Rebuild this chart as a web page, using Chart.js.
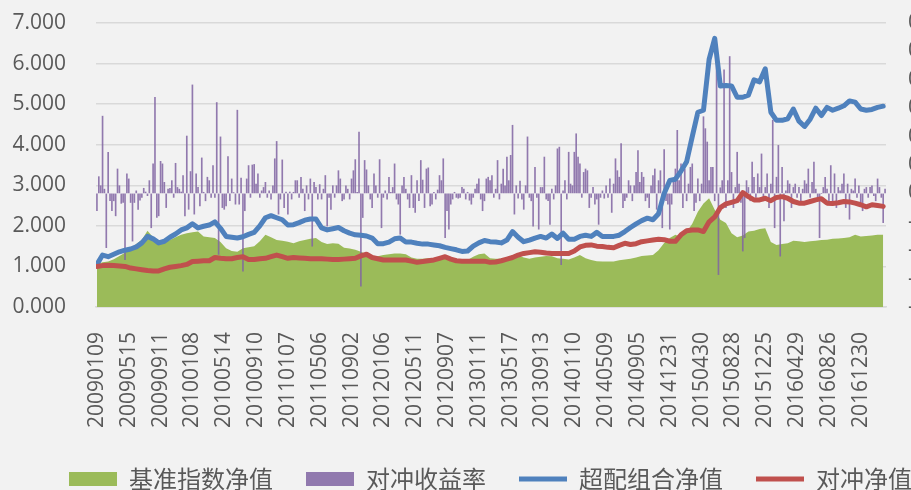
<!DOCTYPE html>
<html>
<head>
<meta charset="utf-8">
<script src="https://cdn.jsdelivr.net/npm/chart.js@4/dist/chart.umd.min.js"></script>
<style>
  html, body { margin: 0; padding: 0; background: #f2f2f2; overflow: hidden; }
  canvas { display: block; }
</style>
</head>
<body>
<canvas id="navChart" width="981" height="501"></canvas>
<script>
// x axis labels, one every 17 weeks
const tickLabels = ['20090109', '20090515', '20090911', '20100108', '20100514', '20100910',
    '20110107', '20110506', '20110902', '20120106', '20120511', '20120907', '20130111',
    '20130517', '20130913', '20140110', '20140509', '20140905', '20141231', '20150430',
    '20150828', '20151225', '20160429', '20160826', '20161230'];
const TICK_STEP = 17;
const WEEKS = 422;
const SAMPLE_STEP = 3; // line values read every 3 weeks

// 基准指数净值
const benchmarkNav = [
    1.05, 1.10, 1.12, 1.18, 1.26, 1.34, 1.45, 1.55, 1.66, 1.88,
    1.72, 1.58, 1.60, 1.65, 1.72, 1.78, 1.82, 1.84, 1.86, 1.74,
    1.72, 1.70, 1.60, 1.45, 1.38, 1.36, 1.45, 1.47, 1.50, 1.62,
    1.78, 1.72, 1.65, 1.63, 1.61, 1.57, 1.62, 1.65, 1.68, 1.70,
    1.60, 1.55, 1.57, 1.56, 1.46, 1.44, 1.41, 1.36, 1.30, 1.26,
    1.25, 1.28, 1.30, 1.32, 1.32, 1.30, 1.22, 1.19, 1.19, 1.20,
    1.20, 1.24, 1.28, 1.20, 1.15, 1.12, 1.16, 1.24, 1.30, 1.32,
    1.20, 1.19, 1.19, 1.22, 1.24, 1.27, 1.22, 1.19, 1.22, 1.24,
    1.26, 1.25, 1.20, 1.19, 1.17, 1.22, 1.28, 1.20, 1.16, 1.13,
    1.12, 1.12, 1.12, 1.15, 1.17, 1.19, 1.22, 1.26, 1.27, 1.28,
    1.40, 1.58, 1.70, 1.78, 1.72, 1.85, 2.05, 2.35, 2.55, 2.68,
    2.40, 2.15, 2.07, 1.82, 1.72, 1.76, 1.86, 1.88, 1.92, 1.94,
    1.60, 1.53, 1.55, 1.57, 1.63, 1.62, 1.60, 1.62, 1.63, 1.65,
    1.66, 1.68, 1.69, 1.70, 1.72, 1.78, 1.74, 1.75, 1.76, 1.78,
    1.78
];

// 超配组合净值
const overweightNav = [
    1.05, 1.28, 1.24, 1.30, 1.36, 1.40, 1.43, 1.48, 1.58, 1.74,
    1.68, 1.58, 1.62, 1.72, 1.80, 1.90, 1.95, 2.05, 1.95, 1.99,
    2.02, 2.10, 1.94, 1.74, 1.72, 1.70, 1.73, 1.79, 1.84, 2.00,
    2.20, 2.25, 2.20, 2.15, 2.02, 2.03, 2.08, 2.14, 2.17, 2.17,
    1.95, 1.90, 1.93, 1.96, 1.88, 1.82, 1.78, 1.77, 1.75, 1.70,
    1.56, 1.56, 1.60, 1.68, 1.70, 1.60, 1.60, 1.57, 1.55, 1.55,
    1.53, 1.51, 1.47, 1.44, 1.41, 1.37, 1.38, 1.50, 1.58, 1.64,
    1.61, 1.60, 1.58, 1.65, 1.86, 1.72, 1.61, 1.65, 1.70, 1.74,
    1.70, 1.80, 1.69, 1.82, 1.67, 1.67, 1.74, 1.77, 1.74, 1.84,
    1.74, 1.74, 1.74, 1.77, 1.86, 1.96, 2.05, 2.13, 2.19, 2.15,
    2.30, 2.80, 3.12, 3.15, 3.35, 3.58, 4.20, 4.80, 4.85, 6.10,
    6.62, 5.45, 5.46, 5.45, 5.17, 5.17, 5.22, 5.60, 5.55, 5.87,
    4.80, 4.60, 4.60, 4.64, 4.88, 4.58, 4.45, 4.63, 4.90, 4.72,
    4.92, 4.85, 4.90, 4.96, 5.08, 5.05, 4.88, 4.85, 4.87, 4.92,
    4.95
];

// 对冲净值
const hedgeNav = [
    1.00, 1.02, 1.03, 1.02, 1.01, 1.00, 0.96, 0.94, 0.92, 0.90,
    0.89, 0.89, 0.94, 0.98, 1.00, 1.02, 1.05, 1.12, 1.13, 1.14,
    1.14, 1.22, 1.20, 1.19, 1.19, 1.22, 1.24, 1.17, 1.17, 1.19,
    1.20, 1.24, 1.28, 1.24, 1.20, 1.22, 1.21, 1.20, 1.19, 1.19,
    1.19, 1.18, 1.17, 1.17, 1.18, 1.19, 1.20, 1.26, 1.30, 1.22,
    1.19, 1.16, 1.16, 1.16, 1.16, 1.16, 1.13, 1.10, 1.12, 1.14,
    1.16, 1.20, 1.24, 1.18, 1.14, 1.13, 1.13, 1.13, 1.13, 1.13,
    1.10, 1.11, 1.14, 1.18, 1.22, 1.28, 1.32, 1.34, 1.36, 1.35,
    1.33, 1.32, 1.32, 1.32, 1.32, 1.38, 1.48, 1.52, 1.53, 1.50,
    1.49, 1.47, 1.46, 1.52, 1.57, 1.54, 1.56, 1.61, 1.63, 1.65,
    1.67, 1.66, 1.62, 1.62, 1.78, 1.88, 1.90, 1.90, 1.86, 2.10,
    2.22, 2.45, 2.54, 2.58, 2.62, 2.82, 2.72, 2.64, 2.64, 2.68,
    2.62, 2.70, 2.72, 2.68, 2.60, 2.56, 2.56, 2.60, 2.64, 2.67,
    2.56, 2.55, 2.57, 2.60, 2.59, 2.56, 2.52, 2.47, 2.52, 2.50,
    2.48
];

// 对冲收益率, weekly (right axis)
const hedgeReturn = [
    -0.0061, 0.0059, 0.0027, 0.0272, 0.0015, -0.0191, 0.0145, -0.0026, -0.0061, -0.0026,
    -0.0079, 0.0086, 0.0027, -0.0035, -0.0032, -0.0233, 0.0069, 0.0051, -0.0032, -0.0168,
    -0.0032, 0.0009, -0.0056, -0.0024, -0.0014, 0.0018, 0.0005, -0.0008, 0.0045, -0.0121,
    0.0104, 0.0338, -0.0085, -0.0079, 0.0113, 0.0104, 0.0039, -0.0050, 0.0015, 0.0018,
    0.0045, -0.0014, 0.0106, 0.0021, 0.0015, 0.0005, 0.0063, -0.0079, 0.0202, -0.0056,
    0.0077, 0.0382, -0.0073, 0.0069, 0.0021, -0.0044, 0.0125, 0.0004, -0.0026, 0.0057,
    0.0045, -0.0014, 0.0098, -0.0014, 0.0320, -0.0215, 0.0199, -0.0050, -0.0056, -0.0044,
    0.0130, -0.0026, 0.0051, 0.0003, -0.0038, 0.0293, -0.0038, 0.0054, -0.0274, -0.0061,
    0.0051, 0.0098, -0.0014, 0.0100, 0.0102, 0.0033, 0.0069, -0.0014, 0.0009, 0.0021,
    0.0039, -0.0014, 0.0009, -0.0020, 0.0027, 0.0122, 0.0183, -0.0073, -0.0020, 0.0118,
    -0.0050, 0.0005, -0.0073, 0.0005, -0.0020,
    0.0004, 0.0045, 0.0045, -0.0014, 0.0057, 0.0015, -0.0061, 0.0027, -0.0020, 0.0051,
    -0.0186, 0.0039, 0.0021, -0.0020, 0.0031, -0.0020, 0.0015, 0.0063, -0.0115, -0.0014,
    -0.0056, 0.0027, -0.0014, 0.0027, 0.0080, 0.0051, -0.0026, -0.0020, 0.0027, 0.0015,
    -0.0020, 0.0051, 0.0080, 0.0119, 0.0004, 0.0216, -0.0327, -0.0085, 0.0116, 0.0083,
    0.0027, -0.0020, -0.0050, 0.0069, 0.0027, -0.0014, 0.0119, -0.0121, -0.0014, 0.0009,
    -0.0020, 0.0057, 0.0004, 0.0021, 0.0104, -0.0020, -0.0038, -0.0144, 0.0027, 0.0057,
    0.0015, -0.0020, -0.0050, 0.0063, -0.0050, -0.0067, 0.0045, -0.0026, 0.0116, 0.0047,
    -0.0050, 0.0086, 0.0090, -0.0044, -0.0038, 0.0004, -0.0020, 0.0012, 0.0063, 0.0045,
    0.0122, -0.0156, -0.0061, -0.0126, -0.0038, -0.0020, 0.0004, -0.0014, -0.0017, -0.0014,
    0.0021, 0.0015, -0.0020, 0.0004, -0.0024, -0.0038, -0.0014, 0.0015, 0.0033, 0.0051,
    -0.0020, -0.0061, -0.0026,
    0.0051, 0.0057, 0.0045, 0.0063, -0.0014, 0.0015, 0.0116, -0.0020, 0.0033, 0.0086,
    0.0027, 0.0128, 0.0045, 0.0134, 0.0240, -0.0073, 0.0027, -0.0017, 0.0043, -0.0020,
    -0.0056, 0.0027, 0.0199, -0.0014, -0.0026, -0.0115, 0.0092, -0.0014, -0.0126, 0.0021,
    0.0021, 0.0128, -0.0020, -0.0026, -0.0109, 0.0015, -0.0020, 0.0027, 0.0157, 0.0163,
    -0.0251, 0.0009, 0.0045, -0.0020, 0.0145, 0.0033, 0.0027, 0.0145, 0.0210, 0.0128,
    0.0104, -0.0014, 0.0074, 0.0086, 0.0080, -0.0050, -0.0014, 0.0021, -0.0038, -0.0020,
    -0.0109, -0.0014, 0.0009, -0.0017, 0.0027, -0.0014, 0.0051, -0.0067, 0.0033, 0.0122,
    0.0080, 0.0057, 0.0175, -0.0050, -0.0026, -0.0014, 0.0045, 0.0027, -0.0026, 0.0027,
    0.0074, 0.0151, 0.0039, 0.0074, 0.0057, -0.0026, -0.0014, -0.0050, 0.0027, 0.0063,
    0.0086, -0.0056, 0.0045, 0.0080, -0.0121, 0.0154, -0.0026, -0.0038, -0.0126, -0.0038,
    0.0045, 0.0086, 0.0222, 0.0045,
    0.0104, -0.0050, 0.0086, -0.0026, 0.0033, 0.0092, 0.0104, -0.0061, -0.0032, 0.0051,
    -0.0026, 0.0033, 0.0270, 0.0228, 0.0181, 0.0045, 0.0092, 0.0092, -0.0026, 0.0524,
    -0.0286, 0.0020, 0.0045, 0.0435, -0.0050, 0.0045, 0.0482, 0.0074, -0.0050, 0.0021,
    0.0145, 0.0033, -0.0032, -0.0203, -0.0156, 0.0045, 0.0021, -0.0026, 0.0110, 0.0057,
    -0.0014, 0.0069, 0.0021, 0.0139, -0.0026, 0.0021, 0.0069, -0.0050, 0.0033, 0.0258,
    -0.0121, 0.0057, 0.0169, -0.0221, 0.0092, -0.0097, 0.0009, 0.0045, 0.0033, -0.0050,
    0.0021, 0.0033, -0.0014, 0.0021, -0.0032, 0.0015, 0.0045, 0.0033, 0.0086, -0.0014,
    0.0039, 0.0110, 0.0015, -0.0026, -0.0156, 0.0000, 0.0021, 0.0057, 0.0015, -0.0026,
    0.0098, -0.0038, 0.0069, -0.0050, 0.0021, 0.0009, 0.0033, 0.0069, -0.0050, 0.0033,
    -0.0091, 0.0015, 0.0009, 0.0051, -0.0014, 0.0027, -0.0032, -0.0061, 0.0015, 0.0021,
    -0.0014, 0.0021, 0.0027, -0.0008, -0.0026, 0.0051, 0.0021, -0.0014, -0.0103, 0.0015
];

const toPoints = (arr, step) => arr.map((v, i) => ({ x: i * step, y: v }));

const tickFont = { family: "'Open Sans', 'Liberation Sans', sans-serif", size: 21 };
const textColor = '#595959';

const ctx = document.getElementById('navChart').getContext('2d');
new Chart(ctx, {
    type: 'line',
    data: {
        datasets: [{
            label: '基准指数净值',
            data: toPoints(benchmarkNav, SAMPLE_STEP),
            yAxisID: 'y',
            fill: 'origin',
            backgroundColor: '#9bbb59',
            borderColor: '#9bbb59',
            borderWidth: 0,
            pointRadius: 0,
            pointStyle: 'rect',
            tension: 0,
            order: 4
        }, {
            type: 'bar',
            label: '对冲收益率',
            data: toPoints(hedgeReturn, 1),
            yAxisID: 'y2',
            backgroundColor: 'rgba(128, 100, 162, 0.85)',
            borderWidth: 0,
            barThickness: 1,
            pointStyle: 'rect',
            order: 3
        }, {
            label: '超配组合净值',
            data: toPoints(overweightNav, SAMPLE_STEP),
            yAxisID: 'y',
            fill: false,
            borderColor: '#4f81bd',
            backgroundColor: '#4f81bd',
            borderWidth: 5,
            borderJoinStyle: 'round',
            borderCapStyle: 'round',
            pointRadius: 0,
            pointStyle: 'line',
            tension: 0,
            order: 2
        }, {
            label: '对冲净值',
            data: toPoints(hedgeNav, SAMPLE_STEP),
            yAxisID: 'y',
            fill: false,
            borderColor: '#c0504d',
            backgroundColor: '#c0504d',
            borderWidth: 5,
            borderJoinStyle: 'round',
            borderCapStyle: 'round',
            pointRadius: 0,
            pointStyle: 'line',
            tension: 0,
            order: 1
        }]
    },
    options: {
        responsive: false,
        animation: false,
        events: [],
        layout: { padding: { top: 23, left: 0, right: 0, bottom: 0 } },
        scales: {
            x: {
                type: 'linear',
                min: -0.5,
                max: WEEKS - 0.5,
                offset: false,
                grid: { display: false, drawTicks: false },
                border: { display: true, color: '#d9d9d9', width: 1.5 },
                afterBuildTicks: (scale) => {
                    scale.ticks = tickLabels.map((t, j) => ({ value: j * TICK_STEP }));
                },
                afterFit: (scale) => { scale.height = 127; },
                ticks: {
                    autoSkip: false,
                    minRotation: 90,
                    maxRotation: 90,
                    padding: 25,
                    color: textColor,
                    font: tickFont,
                    callback: (value, index) => tickLabels[index]
                }
            },
            y: {
                position: 'left',
                min: 0,
                max: 7,
                // invisible tick marks keep the gap between labels and plot
                grid: { color: '#d9d9d9', lineWidth: 1.5, drawTicks: true, tickLength: 30, tickColor: 'rgba(0,0,0,0)' },
                border: { display: false },
                afterFit: (scale) => { scale.width = 96; },
                ticks: {
                    stepSize: 1,
                    padding: 0,
                    color: textColor,
                    font: tickFont,
                    callback: (value) => value.toFixed(3)
                }
            },
            y2: {
                position: 'right',
                min: -0.04,
                max: 0.06,
                grid: { drawOnChartArea: false, drawTicks: true, tickLength: 22, tickColor: 'rgba(0,0,0,0)' },
                border: { display: false },
                afterFit: (scale) => { scale.width = 95; },
                ticks: {
                    stepSize: 0.01,
                    padding: 0,
                    color: textColor,
                    font: tickFont,
                    callback: (value) => value.toFixed(2)
                }
            }
        },
        plugins: {
            tooltip: { enabled: false },
            legend: {
                position: 'bottom',
                labels: {
                    usePointStyle: true,
                    pointStyleWidth: 48,
                    boxHeight: 14,
                    padding: 33,
                    color: textColor,
                    font: { family: "'Noto Sans CJK SC', sans-serif", size: 24 },
                    sort: (a, b) => a.datasetIndex - b.datasetIndex
                }
            }
        }
    }
});
</script>
</body>
</html>
